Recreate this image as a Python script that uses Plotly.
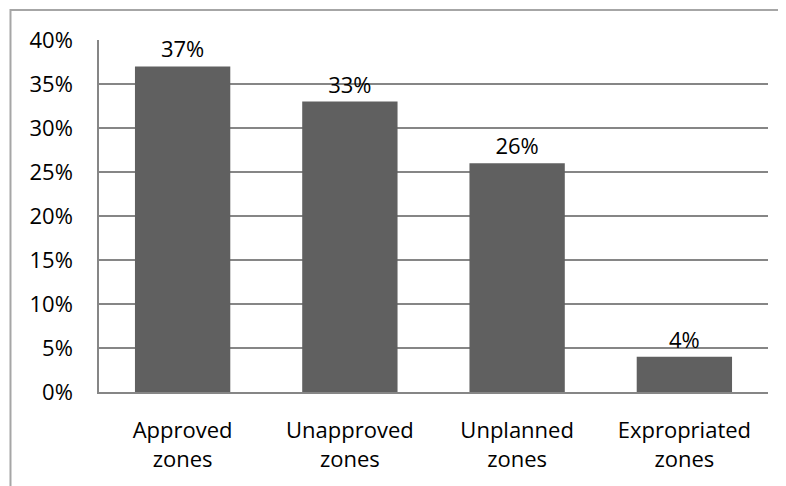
import plotly.graph_objects as go

categories = ["Approved<br>zones", "Unapproved<br>zones", "Unplanned<br>zones", "Expropriated<br>zones"]
shares = [0.37, 0.33, 0.26, 0.04]

FONT = "Open Sans"
GRID = "#868686"

fig = go.Figure()
fig.add_trace(go.Bar(
    x=categories, y=shares,
    marker=dict(color="#606060", line=dict(width=0)),
    width=0.57,
    text=[f"{v:.0%}" for v in shares],
    textposition="outside",
    textfont=dict(family=FONT, size=22, color="#000000"),
    cliponaxis=False,
))

# page body has an 8px margin, so the figure is offset accordingly
fig.update_layout(
    width=786, height=486,
    margin=dict(l=91, r=26, t=32, b=102),
    paper_bgcolor="white", plot_bgcolor="white",
    showlegend=False,
    font=dict(family=FONT, size=22, color="#000000"),
    # outer chart border (only top/left visible in the crop)
    shapes=[dict(type="rect", xref="paper", yref="paper",
                 x0=-0.1323, x1=1.2, y0=-0.6, y1=1.0852,
                 line=dict(color="#a6a6a6", width=2))],
)
fig.update_yaxes(range=[0, 0.4], dtick=0.05, tickformat=".0%",
                 showgrid=True, gridcolor=GRID, gridwidth=1.5,
                 showline=True, linecolor=GRID, linewidth=1.5,
                 ticks="", ticklabelstandoff=20, zeroline=False)
fig.update_xaxes(showline=True, linecolor=GRID, linewidth=2,
                 ticks="", ticklabelstandoff=18)

fig.write_html("out.html")
